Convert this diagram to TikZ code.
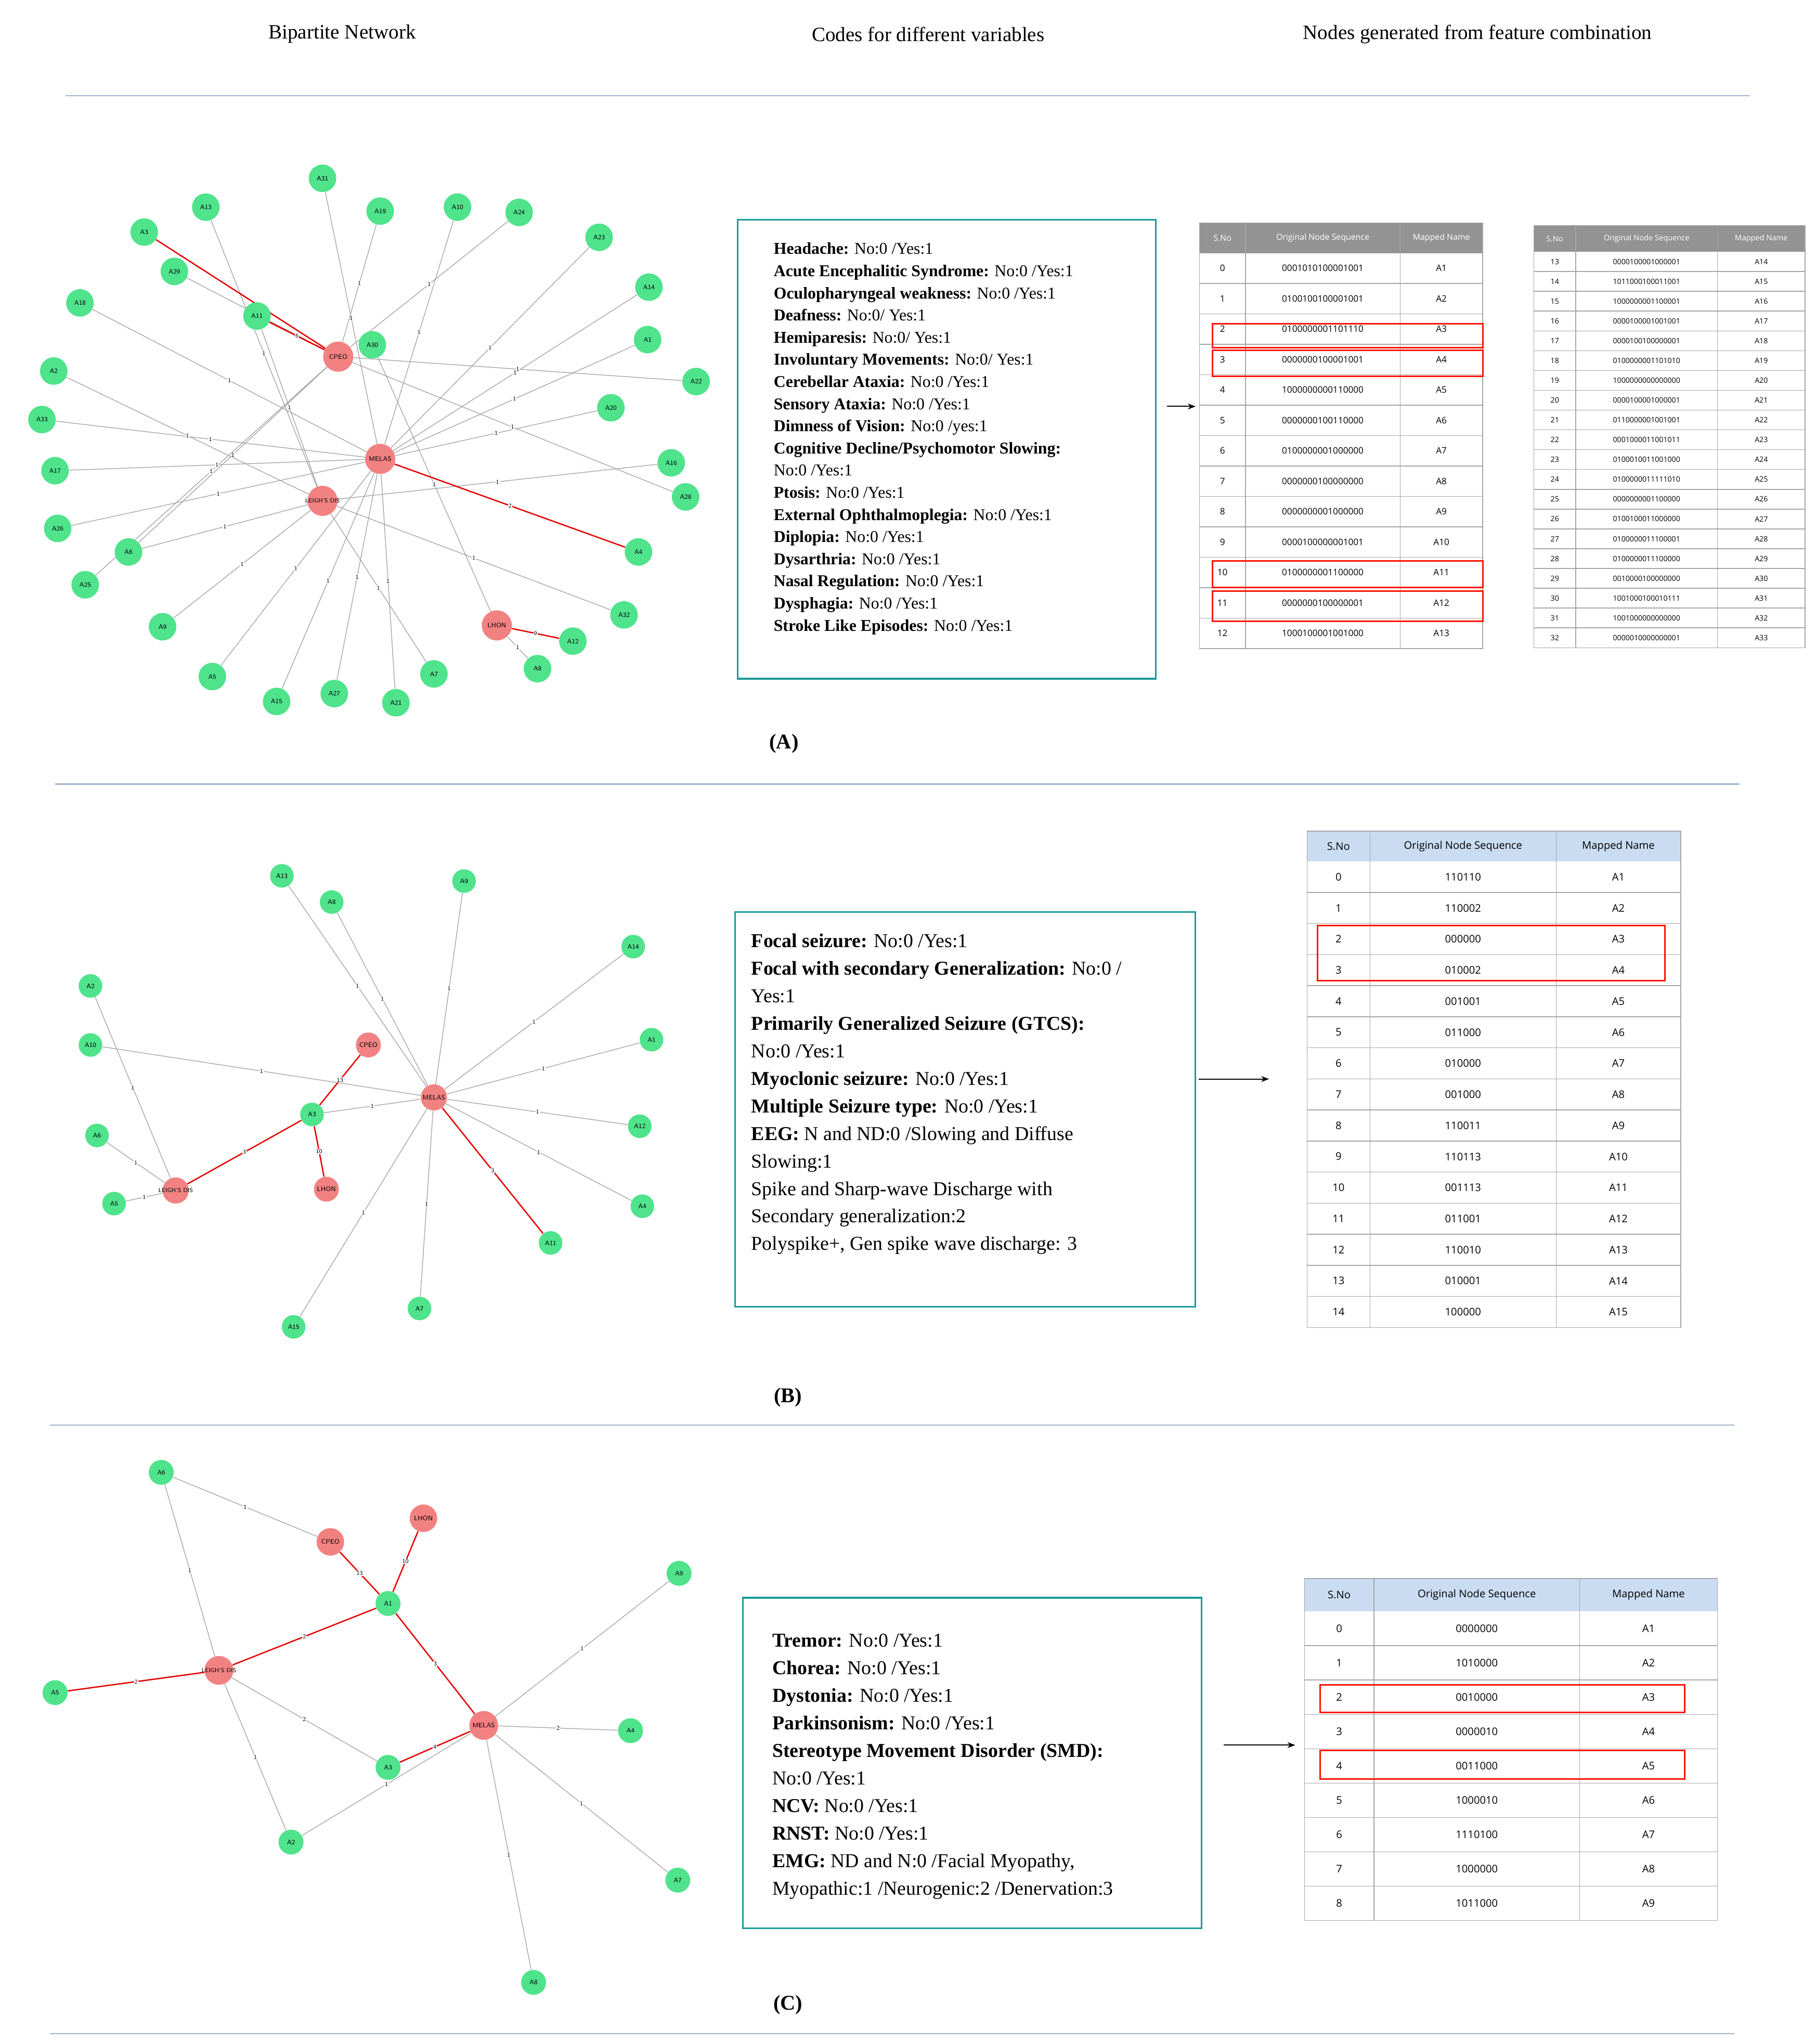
\documentclass[tikz,border=0pt]{standalone}
\usepackage{fontspec}
\setmainfont{Liberation Serif}
\newfontfamily\tabfont{Open Sans}
\usetikzlibrary{backgrounds,arrows.meta}
\definecolor{gn}{HTML}{4FE38C}
\definecolor{rd}{HTML}{F28282}
\definecolor{teal1}{HTML}{1A9A96}
\definecolor{sep}{HTML}{9FB4D0}
\definecolor{thb}{HTML}{C9DCF2}
\tikzset{
 gnode/.style={circle,fill=gn,minimum size=21pt,inner sep=0pt,font=\fontsize{5}{5}\selectfont\sffamily},
 rnode/.style={circle,fill=rd,minimum size=23pt,inner sep=0pt,font=\fontsize{5}{5}\selectfont\sffamily},
 lnode/.style={circle,fill=rd,minimum size=23pt,inner sep=0pt,label={[font=\fontsize{4.5}{5}\selectfont\sffamily,inner sep=0pt]center:#1}},
 ge/.style={draw=gray!75,line width=0.5pt},
 re/.style={draw=red!90!black,line width=1pt},
 el/.style={midway,font=\fontsize{4.5}{5}\selectfont\sffamily,fill=white,inner sep=0.4pt},
 sepline/.style={draw=sep,line width=1pt},
 tbox/.style={draw=teal1,line width=1.3pt},
 hbox/.style={draw=red!85!orange,line width=1.2pt},
 tline/.style={draw=gray!70,line width=0.6pt},
 arr/.style={-{Stealth[length=6pt]},line width=0.8pt},
}
\newcommand{\mktable}[1]{%
 \fill[\thfill] (\ca,\ty) rectangle (\cd,{\ty+\hh});
 \node[font=\thfont] at ({(\ca+\cb)/2},{\ty+\hh/2}) {S.No};
 \node[font=\thfont] at ({(\cb+\cc)/2},{\ty+\hh/2}) {Original Node Sequence};
 \node[font=\thfont] at ({(\cc+\cd)/2},{\ty+\hh/2}) {Mapped Name};
 \foreach \s/\q/\m [count=\i] in {#1}{%
  \node[font=\tdfont] at ({(\ca+\cb)/2},{\ty+\hh+(\i-0.5)*\rh}) {\s};
  \node[font=\tdfont] at ({(\cb+\cc)/2},{\ty+\hh+(\i-0.5)*\rh}) {\q};
  \node[font=\tdfont] at ({(\cc+\cd)/2},{\ty+\hh+(\i-0.5)*\rh}) {\m};
  \draw[tline] (\ca,{\ty+\hh+\i*\rh}) -- (\cd,{\ty+\hh+\i*\rh});
 }
 \draw[tline] (\ca,\ty) rectangle (\cd,{\ty+\hh+\nr*\rh});
 \draw[tline] (\cb,\ty) -- (\cb,{\ty+\hh+\nr*\rh});
 \draw[tline] (\cc,\ty) -- (\cc,{\ty+\hh+\nr*\rh});
}
\begin{document}
\begin{tikzpicture}[x=1pt,y=-1pt]
\useasboundingbox (0,0) rectangle (1385,1559);
\begin{scope}[on background layer]
\fill[white] (0,0) rectangle (1385,1559);
\end{scope}
% headers
\begin{scope}[font=\fontsize{15.5}{17}\selectfont]
\node (h1) at (261,26) {Bipartite Network};
\node (h2) at (708,26) {Codes for different variables};
\node (h3) at (1127,26) {Nodes generated from feature combination};
\end{scope}
\draw[sepline] (50,73) -- (1335,73);
\draw[sepline] (42,598) -- (1327,598);
\draw[sepline] (38,1087) -- (1323,1087);
\draw[sepline] (38,1551) -- (1323,1551);
\begin{scope}[font=\bfseries\fontsize{16}{18}\selectfont]
\node (la) at (598,567) {(A)};
\node (lb) at (601,1066) {(B)};
\node (lc) at (601,1529) {(C)};
\end{scope}

% ---------- Graph A
\foreach \n/\x/\y in {A31/246/136,A13/157/158,A19/290/161,A10/349/158,A24/396/162,A3/110/177,A23/457/181,A29/133/207,A14/495/219,A18/61/231,A11/196/241,A1/494/259,A30/284/263,A2/41/283,A22/531/291,A20/466/311,A33/32/320,A16/512/353,A17/42/359,A28/523/379,A26/44/403,A6/98/421,A4/487/421,A25/65/446,A9/124/478,A32/476/469,A12/437/489,A8/410/510,A5/162/516,A7/331/514,A15/211/535,A27/255/529,A21/302/536}
 \node[gnode] (a\n) at (\x,\y) {\n};
\node[rnode] (aCPEO) at (258,272) {CPEO};
\node[rnode] (aMELAS) at (290,350) {MELAS};
\node[lnode={LEIGH'S DIS}] (aLEIGH) at (246,382) {};
\node[rnode] (aLHON) at (379,477) {LHON};
\begin{scope}[on background layer]
\foreach \u/\v in {A29/CPEO,A13/LEIGH,A11/LEIGH,A31/MELAS,A19/CPEO,A10/MELAS,A24/CPEO,A23/MELAS,A14/MELAS,A1/MELAS,A22/CPEO,A20/MELAS,A28/CPEO,A16/LEIGH,A32/LEIGH,A30/LHON,A8/LHON,A7/LEIGH,A21/MELAS,A27/MELAS,A15/MELAS,A5/MELAS,A9/LEIGH,A6/CPEO,A6/LEIGH,A25/CPEO,A26/MELAS,A17/MELAS,A33/MELAS,A2/LEIGH,A18/MELAS}
 \draw[ge] (a\u) -- node[el]{1} (a\v);
\draw[re] (aA3) -- node[el,pos=0.6]{2} (aCPEO);
\draw[re] (aA11) -- node[el]{6} (aCPEO);
\draw[re] (aA4) -- node[el]{2} (aMELAS);
\draw[re] (aA12) -- node[el]{9} (aLHON);
\end{scope}

% ---------- Box A
\node[tbox,minimum width=319pt,minimum height=350pt,anchor=north west] (boxa) at (562,167) {};
\node[anchor=north west,align=left,font=\fontsize{12.6}{16.9}\selectfont,inner sep=0pt] (ta) at (590,185) {%
\textbf{Headache:} No:0 /Yes:1\\
\textbf{Acute Encephalitic Syndrome:} No:0 /Yes:1\\
\textbf{Oculopharyngeal weakness:} No:0 /Yes:1\\
\textbf{Deafness:} No:0/ Yes:1\\
\textbf{Hemiparesis:} No:0/ Yes:1\\
\textbf{Involuntary Movements:} No:0/ Yes:1\\
\textbf{Cerebellar Ataxia:} No:0 /Yes:1\\
\textbf{Sensory Ataxia:} No:0 /Yes:1\\
\textbf{Dimness of Vision:} No:0 /yes:1\\
\textbf{Cognitive Decline/Psychomotor Slowing:}\\
No:0 /Yes:1\\
\textbf{Ptosis:} No:0 /Yes:1\\
\textbf{External Ophthalmoplegia:} No:0 /Yes:1\\
\textbf{Diplopia:} No:0 /Yes:1\\
\textbf{Dysarthria:} No:0 /Yes:1\\
\textbf{Nasal Regulation:} No:0 /Yes:1\\
\textbf{Dysphagia:} No:0 /Yes:1\\
\textbf{Stroke Like Episodes:} No:0 /Yes:1};
\coordinate (arA) at (912,310);
\draw[arr] (boxa.east |- arA) ++(8,0) -- (arA);

% ---------- Tables A
\def\thfill{gray!85}\def\thfont{\tabfont\fontsize{6.3}{7}\selectfont\color{white}}
\def\tdfont{\tabfont\fontsize{6.8}{8}\selectfont}
\def\ca{915}\def\cb{950}\def\cc{1068}\def\cd{1131}\def\ty{170}\def\hh{23}\def\rh{23.2}\def\nr{13}
\mktable{0/0001010100001001/A1,1/0100100100001001/A2,2/0100000001101110/A3,3/0000000100001001/A4,4/1000000000110000/A5,5/0000000100110000/A6,6/0100000001000000/A7,7/0000000100000000/A8,8/0000000001000000/A9,9/0000100000001001/A10,10/0100000001100000/A11,11/0000000100000001/A12,12/1000100001001000/A13}
\draw[hbox] (925,247) rectangle (1131,265);
\draw[hbox] (925,267) rectangle (1131,287);
\draw[hbox] (925,428) rectangle (1131,448);
\draw[hbox] (925,451) rectangle (1131,474);
\def\thfont{\tabfont\fontsize{5.8}{7}\selectfont\color{white}}
\def\tdfont{\tabfont\fontsize{5.6}{6}\selectfont}
\def\ca{1170}\def\cb{1202}\def\cc{1310}\def\cd{1377}\def\ty{172}\def\hh{20}\def\rh{15.1}\def\nr{20}
\mktable{13/0000100001000001/A14,14/1011000100011001/A15,15/1000000001100001/A16,16/0000100001001001/A17,17/0000100100000001/A18,18/0100000001101010/A19,19/1000000000000000/A20,20/0000100001000001/A21,21/0110000001001001/A22,22/0001000011001011/A23,23/0100010011001000/A24,24/0100000011111010/A25,25/0000000001100000/A26,26/0100100011000000/A27,27/0100000011100001/A28,28/0100000011100000/A29,29/0010000100000000/A30,30/1001000100010111/A31,31/1001000000000000/A32,32/0000010000000001/A33}

% ---------- Graph B
\foreach \n/\x/\y in {A13/215/668,A8/253/688,A9/354/672,A14/483/722,A2/69/752,A1/497/793,A10/69/797,A3/238/850,A12/488/859,A6/74/866,A4/490/920,A5/87/918,A11/420/948,A7/320/998,A15/224/1012}
 \node[gnode,minimum size=18pt] (b\n) at (\x,\y) {\n};
\node[rnode,minimum size=19pt] (bCPEO) at (281,797) {CPEO};
\node[rnode,minimum size=20pt] (bMELAS) at (331,837) {MELAS};
\node[rnode,minimum size=19pt] (bLHON) at (249,907) {LHON};
\node[lnode={LEIGH'S DIS},minimum size=20pt] (bLEIGH) at (134,908) {};
\begin{scope}[on background layer]
\foreach \u/\v in {A13/MELAS,A8/MELAS,A9/MELAS,A14/MELAS,A1/MELAS,A12/MELAS,A4/MELAS,A7/MELAS,A15/MELAS,A10/MELAS,A3/MELAS,A2/LEIGH,A6/LEIGH,A5/LEIGH}
 \draw[ge] (b\u) -- node[el]{1} (b\v);
\draw[re] (bA11) -- node[el]{3} (bMELAS);
\draw[re] (bA3) -- node[el]{13} (bCPEO);
\draw[re] (bA3) -- node[el]{10} (bLHON);
\draw[re] (bA3) -- node[el]{3} (bLEIGH);
\end{scope}
\node[tbox,minimum width=351pt,minimum height=301pt,anchor=north west] (boxb) at (560,695) {};
\node[anchor=north west,align=left,font=\fontsize{15}{21}\selectfont,inner sep=0pt] (tb) at (573,712) {%
\textbf{Focal seizure:} No:0 /Yes:1\\
\textbf{Focal with secondary Generalization:} No:0 /\\
Yes:1\\
\textbf{Primarily Generalized Seizure (GTCS):}\\
No:0 /Yes:1\\
\textbf{Myoclonic seizure:} No:0 /Yes:1\\
\textbf{Multiple Seizure type:} No:0 /Yes:1\\
\textbf{EEG:} N and ND:0 /Slowing and Diffuse\\
Slowing:1\\
Spike and Sharp-wave Discharge with\\
Secondary generalization:2\\
Polyspike+, Gen spike wave discharge: 3};
\coordinate (arB) at (968,823);
\draw[arr] (boxb.east |- arB) ++(2,0) -- (arB);
\def\thfill{thb}\def\thfont{\tabfont\fontsize{8}{9}\selectfont}
\def\tdfont{\tabfont\fontsize{8}{9}\selectfont}
\def\ca{997}\def\cb{1045}\def\cc{1187}\def\cd{1282}\def\ty{634}\def\hh{23}\def\rh{23.7}\def\nr{15}
\mktable{0/110110/A1,1/110002/A2,2/000000/A3,3/010002/A4,4/001001/A5,5/011000/A6,6/010000/A7,7/001000/A8,8/110011/A9,9/110113/A10,10/001113/A11,11/011001/A12,12/110010/A13,13/010001/A14,14/100000/A15}
\draw[hbox] (1005,706) rectangle (1270,748);

% ---------- Graph C
\foreach \n/\x/\y in {A6/123/1123,A1/296/1223,A9/518/1200,A5/42/1291,A4/481/1320,A3/296/1348,A2/222/1405,A7/517/1434,A8/407/1512}
 \node[gnode,minimum size=19pt] (c\n) at (\x,\y) {\n};
\node[rnode,minimum size=21pt] (cCPEO) at (252,1176) {CPEO};
\node[rnode,minimum size=21pt] (cLHON) at (323,1158) {LHON};
\node[lnode={LEIGH'S DIS},minimum size=22pt] (cLEIGH) at (167,1274) {};
\node[rnode,minimum size=22pt] (cMELAS) at (369,1316) {MELAS};
\begin{scope}[on background layer]
\foreach \u/\v/\l in {A6/CPEO/1,A6/LEIGH/1,A3/LEIGH/2,A2/LEIGH/1,A2/MELAS/1,A9/MELAS/1,A4/MELAS/2,A7/MELAS/1,A8/MELAS/1}
 \draw[ge] (c\u) -- node[el]{\l} (c\v);
\foreach \u/\v/\l in {A1/CPEO/13,A1/LHON/10,A1/LEIGH/2,A1/MELAS/3,A5/LEIGH/2,A3/MELAS/4}
 \draw[re] (c\u) -- node[el]{\l} (c\v);
\end{scope}
\node[tbox,minimum width=350pt,minimum height=252pt,anchor=north west] (boxc) at (566,1218) {};
\node[anchor=north west,align=left,font=\fontsize{15}{21}\selectfont,inner sep=0pt] (tc) at (589,1246) {%
\textbf{Tremor:} No:0 /Yes:1\\
\textbf{Chorea:} No:0 /Yes:1\\
\textbf{Dystonia:} No:0 /Yes:1\\
\textbf{Parkinsonism:} No:0 /Yes:1\\
\textbf{Stereotype Movement Disorder (SMD):}\\
No:0 /Yes:1\\
\textbf{NCV:} No:0 /Yes:1\\
\textbf{RNST:} No:0 /Yes:1\\
\textbf{EMG:} ND and N:0 /Facial Myopathy,\\
Myopathic:1 /Neurogenic:2 /Denervation:3};
\coordinate (arC) at (988,1331);
\draw[arr] (boxc.east |- arC) ++(16,0) -- (arC);
\def\ca{995}\def\cb{1048}\def\cc{1205}\def\cd{1310}\def\ty{1204}\def\hh{25}\def\rh{26.2}\def\nr{9}
\mktable{0/0000000/A1,1/1010000/A2,2/0010000/A3,3/0000010/A4,4/0011000/A5,5/1000010/A6,6/1110100/A7,7/1000000/A8,8/1011000/A9}
\draw[hbox] (1007,1285) rectangle (1285,1306);
\draw[hbox] (1007,1335) rectangle (1285,1357);
\end{tikzpicture}
\end{document}
